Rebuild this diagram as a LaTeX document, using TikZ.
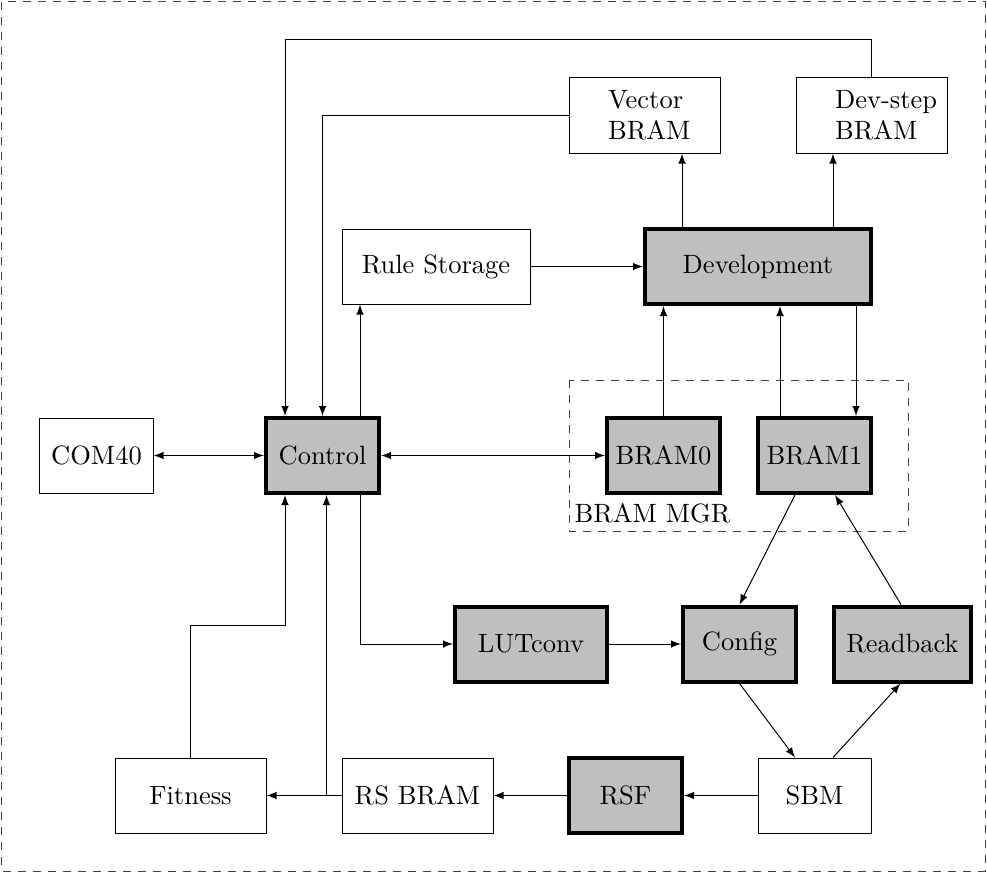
\documentclass[tikz,border=0pt]{standalone}
\usetikzlibrary{calc}
\begin{document}
\begin{tikzpicture}[x=0.4pt,y=-0.4pt, font=\fontsize{10.6}{12.6}\selectfont,
  plain/.style={draw, line width=0.4pt, inner sep=0pt, minimum height=30pt},
  hot/.style={draw, line width=1.6pt, fill=gray!50, inner sep=0pt, minimum height=30pt},
  twoline/.style={draw, line width=0.4pt, inner ysep=0pt, inner xsep=15.6pt, text width=29.2pt, align=left, minimum height=30.4pt},
  conn/.style={-latex, line width=0.4pt},
  bi/.style={latex-latex, line width=0.4pt},
  frame/.style={dashed, draw=black!75, line width=0.4pt}]
\useasboundingbox (0,0) rectangle (987,873);
\draw[frame] (2,2) rectangle (985,871);
% BRAM MGR group
\draw[frame] (569,380) rectangle (908,531);
\node[anchor=south west, inner sep=0pt] (mgr) at (574,524) {BRAM MGR};
% nodes
\node[twoline] (vec) at (644.5,115) {Vector\\BRAM};
\node[twoline] (ds) at (871.5,115) {\mbox{Dev-step}\\BRAM};
\node[plain, minimum width=75.2pt] (rule) at (436,266.5) {Rule Storage};
\node[hot, minimum width=90.4pt] (devel) at (758,266.5) {Development};
\node[hot, minimum width=45.2pt] (bram0) at (663.5,455.5) {BRAM0};
\node[hot, minimum width=45.2pt] (bram1) at (814.5,455.5) {BRAM1};
\node[plain, minimum width=45.2pt] (com) at (96.5,455.5) {COM40};
\node[hot, minimum width=45.2pt] (ctl) at (322.5,455.5) {Control};
\node[hot, minimum width=60.8pt] (lut) at (531,644) {LUTconv};
\node[hot, minimum width=45.2pt] (cfg) at (739.5,644) {Config};
\node[hot, minimum width=54.8pt] (rb) at (902.5,644) {Readback};
\node[plain, minimum width=60.4pt] (fit) at (190.5,795.5) {Fitness};
\node[plain, minimum width=60.4pt] (rsb) at (417.5,795.5) {RS BRAM};
\node[hot, minimum width=45.2pt] (rsf) at (625.5,795.5) {RSF};
\node[plain, minimum width=45.2pt] (sbm) at (814.5,795.5) {SBM};
% connectors
\draw[conn] (ds.north) -- ++(0,-37) -| ($(ctl.north)+(-37.5,0)$);
\draw[conn] (vec.west) -| (ctl.north);
\draw[conn] ($(ctl.north)+(37.5,0)$) -- ($(rule.south)+(-76,0)$);
\draw[conn] (rule.east) -- (devel.west);
\draw[conn] ($(devel.north)+(-76,0)$) -- ($(vec.south)+(37.5,0)$);
\draw[conn] ($(devel.north)+(75,0)$) -- ($(ds.south)+(-38.5,0)$);
\draw[conn] (bram0.north) -- (bram0.north |- devel.south);
\draw[conn] ($(bram1.north)+(-34.5,0)$) -- ($(devel.south)+(22,0)$);
\draw[conn] ($(devel.south)+(98,0)$) -- ($(bram1.north)+(41.5,0)$);
\draw[bi] (com.east) -- (ctl.west);
\draw[bi] (ctl.east) -- (bram0.west);
\draw[conn] ($(ctl.south)+(37.5,0)$) |- (lut.west);
\draw[conn] (lut.east) -- (cfg.west);
\draw[conn] ($(bram1.south)+(-19.5,0)$) -- (cfg.north);
\draw[conn] ($(rb.north)+(-1.5,0)$) -- ($(bram1.south)+(20.5,0)$);
\draw[conn] (cfg.south) -- ($(sbm.north)+(-19.5,0)$);
\draw[conn] ($(sbm.north)+(18.5,0)$) -- ($(rb.south)+(-2,0)$);
\draw[conn] (sbm.west) -- (rsf.east);
\draw[conn] (rsf.west) -- (rsb.east);
\draw[conn] (rsb.west) -- (fit.east);
\coordinate (j) at (326.5,795.5);
\draw[conn] (j) -- ($(ctl.south)+(4,0)$);
\draw[conn] (fit.north) -- ++(0,-132) -| ($(ctl.south)+(-37.5,0)$);
\end{tikzpicture}
\end{document}
